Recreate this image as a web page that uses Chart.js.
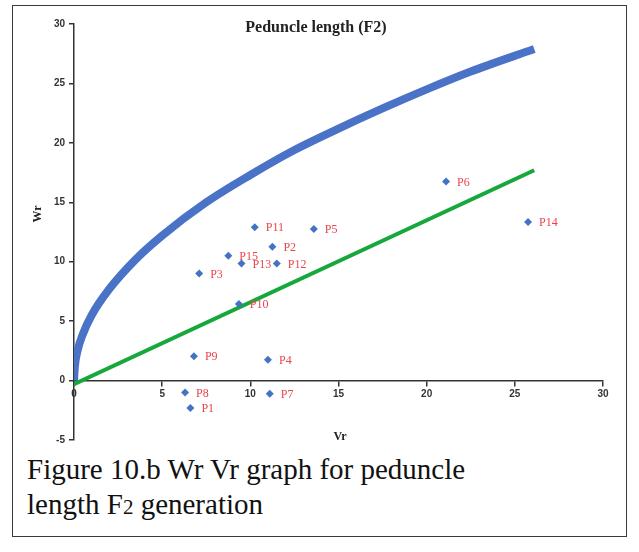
<!DOCTYPE html>
<html>
<head>
<meta charset="utf-8">
<script src="https://cdn.jsdelivr.net/npm/chart.js@4.4.1/dist/chart.umd.min.js"></script>
<style>
  body { margin: 0; background: #fff; }
  #frame { position: absolute; left: 12px; top: 5px; width: 613px; height: 530px; border: 1.5px solid #3a3a3a; }
  #wrChart { position: absolute; left: 0; top: 0; }
  #caption { position: absolute; left: 27px; top: 452px; font-family: 'Liberation Serif', serif; font-size: 29px; line-height: 35px; color: #111; }
  #caption sub { font-size: 21px; vertical-align: baseline; }
</style>
</head>
<body>
<div id="frame"></div>
<canvas id="wrChart" width="639" height="452"></canvas>
<div id="caption">Figure 10.b Wr Vr graph for peduncle<br>length F<sub>2</sub> generation</div>
<script>
// parent points (Vr, Wr)
let parentNames = ['P1', 'P2', 'P3', 'P4', 'P5', 'P6', 'P7', 'P8', 'P9', 'P10', 'P11', 'P12', 'P13', 'P14', 'P15'];
let parentVr = [6.6, 11.25, 7.1, 11.0, 13.6, 21.1, 11.1, 6.3, 6.8, 9.35, 10.25, 11.5, 9.5, 25.75, 8.75];
let parentWr = [-2.3, 11.25, 9.0, 1.75, 12.75, 16.75, -1.1, -1.0, 2.05, 6.45, 12.9, 9.85, 9.85, 13.35, 10.5];

// limiting parabola
let curveVr = [0, 0.05, 0.2, 0.5, 1, 2, 3.5, 5, 7.5, 10, 12.5, 15, 17.5, 20, 22.5, 26.1];
let curveWr = [0, 1.2, 2.5, 3.9, 5.5, 7.7, 10.2, 12.2, 15.0, 17.3, 19.4, 21.2, 22.9, 24.5, 26.0, 27.9];

// regression line end points
let lineVr = [0, 26.1];
let lineWr = [-0.3, 17.7];

let toPoints = (xs, ys) => xs.map((x, i) => ({x: x, y: ys[i]}));

let labelPlugin = {
    id: 'pointLabels',
    afterDatasetsDraw(chart) {
        let ctx = chart.ctx;
        let meta = chart.getDatasetMeta(0);
        ctx.save();
        ctx.font = '12px "Liberation Serif"';
        ctx.fillStyle = '#e8454c';
        ctx.textBaseline = 'middle';
        meta.data.forEach((pt, i) => {
            ctx.fillText(parentNames[i], pt.x + 11, pt.y + 1);
        });
        ctx.restore();
    },
    afterDraw(chart) {
        let ctx = chart.ctx;
        let area = chart.chartArea;
        ctx.save();
        ctx.fillStyle = '#222';
        ctx.textAlign = 'center';
        ctx.textBaseline = 'middle';
        ctx.font = 'bold 16px "Liberation Serif"';
        ctx.fillText('Peduncle length (F2)', 316, 28);
        ctx.font = 'bold 12px "Liberation Serif"';
        ctx.fillText('Vr', 340, area.bottom - 3);
        ctx.translate(38, 214);
        ctx.rotate(-Math.PI / 2);
        ctx.fillText('Wr', 0, 0);
        ctx.restore();
    }
};

let wrChart = document.getElementById('wrChart').getContext('2d');

let new_wr_chart = new Chart(wrChart, {
    type: 'scatter',
    data: {
        datasets: [{
            data: toPoints(parentVr, parentWr),
            pointStyle: 'rectRot',
            pointRadius: 4,
            backgroundColor: '#4472c4',
            borderColor: '#4472c4',
            borderWidth: 0,
        }, {
            data: toPoints(lineVr, lineWr),
            showLine: true,
            borderColor: '#16a83c',
            borderWidth: 4,
            pointRadius: 0,
        }, {
            data: toPoints(curveVr, curveWr),
            showLine: true,
            cubicInterpolationMode: 'monotone',
            borderColor: '#4a73c8',
            borderWidth: 8,
            pointRadius: 0,
        }],
    },

    options: {
        responsive: false,
        animation: false,
        devicePixelRatio: 1,
        layout: {
            padding: {top: 24, right: 36, bottom: 12, left: 0}
        },
        plugins: {
            legend: { display: false },
            tooltip: { enabled: false }
        },
        scales: {
            x: {
                type: 'linear',
                position: {y: 0},
                min: 0,
                max: 30,
                ticks: {
                    stepSize: 5,
                    color: '#333',
                    padding: 3,
                    maxRotation: 0,
                    font: {family: 'Liberation Sans', weight: 'bold', size: 10}
                },
                grid: { drawOnChartArea: false, drawTicks: true, tickLength: 5, color: '#333', lineWidth: 1.5 },
                border: { color: '#333', width: 1.5 }
            },
            y: {
                type: 'linear',
                min: -5,
                max: 30,
                afterFit: (scale) => { scale.width = 74; },
                ticks: {
                    stepSize: 5,
                    color: '#333',
                    padding: 4,
                    font: {family: 'Liberation Sans', weight: 'bold', size: 10}
                },
                grid: { drawOnChartArea: false, drawTicks: true, tickLength: 5, color: '#333', lineWidth: 1.5 },
                border: { color: '#333', width: 1.5 }
            }
        }
    },
    plugins: [labelPlugin]
});
</script>
</body>
</html>
